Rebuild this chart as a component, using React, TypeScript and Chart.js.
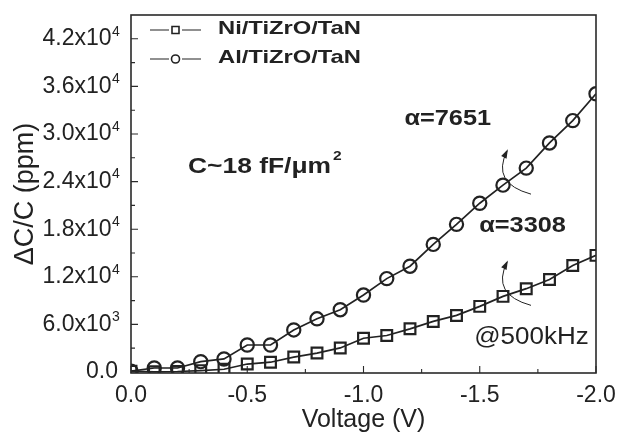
import React, { useEffect, useRef } from "react";
import { Chart, registerables } from "chart.js";

Chart.register(...registerables);

const voltage = [0, -0.1, -0.2, -0.3, -0.4, -0.5, -0.6, -0.7, -0.8, -0.9, -1.0, -1.1, -1.2, -1.3, -1.4, -1.5, -1.6, -1.7, -1.8, -1.9, -2.0];
const niValues = [100, 20, 60, 170, 340, 1000, 1230, 1880, 2380, 3030, 4250, 4600, 5440, 6370, 7130, 8270, 9530, 10500, 11650, 13420, 14700];
const alValues = [100, 500, 500, 1300, 1640, 3400, 3400, 5300, 6700, 7850, 9700, 11770, 13330, 16080, 18610, 21270, 23550, 25700, 28870, 31690, 35070];

const seriesNames = ["Ni/TiZrO/TaN", "Al/TiZrO/TaN"];

const yTickValues = [0, 6000, 12000, 18000, 24000, 30000, 36000, 42000];
const yTickLabels = ["0.0", "6.0x10", "1.2x10", "1.8x10", "2.4x10", "3.0x10", "3.6x10", "4.2x10"];
const yTickExponents = ["", "3", "4", "4", "4", "4", "4", "4"];
const yMinorTicks = [3000, 9000, 15000, 21000, 27000, 33000, 39000];
const xTickValues = [0, -0.5, -1.0, -1.5, -2.0];
const xTickLabels = ["0.0", "-0.5", "-1.0", "-1.5", "-2.0"];
const xMinorTicks = [-0.25, -0.75, -1.25, -1.75];

const xTitle = "Voltage (V)";
const yTitle = "\u0394C/C (ppm)";
const alphaAl = "\u03B1=7651";
const alphaNi = "\u03B1=3308";
const densityText = "C~18 fF/\u03BCm";
const densityExp = "2";
const freqText = "@500kHz";

const FONT = "'Liberation Sans', Arial, Helvetica, sans-serif";
const INK = "#222222";
const Y_TICK_PAD = 13;

function drawText(ctx: CanvasRenderingContext2D, text: string, x: number, y: number, font: string, sx: number): number {
  ctx.save();
  ctx.font = font;
  ctx.textBaseline = "middle";
  ctx.textAlign = "left";
  ctx.fillStyle = INK;
  ctx.translate(x, y);
  ctx.scale(sx, 1);
  ctx.fillText(text, 0, 0);
  const w = ctx.measureText(text).width * sx;
  ctx.restore();
  return w;
}

function drawArrow(ctx: CanvasRenderingContext2D, px: number, py: number) {
  const sx = px + 28, sy = py + 9;
  const cx = px - 12, cy = py - 2;
  const ex = px + 4, ey = py - 34;
  ctx.save();
  ctx.strokeStyle = INK;
  ctx.fillStyle = INK;
  ctx.lineWidth = 1;
  ctx.beginPath();
  ctx.moveTo(sx, sy);
  ctx.quadraticCurveTo(cx, cy, ex, ey);
  ctx.stroke();
  const ang = Math.atan2(ey - cy, ex - cx);
  const L = 7, W = 3;
  ctx.beginPath();
  ctx.moveTo(ex + Math.cos(ang) * 2, ey + Math.sin(ang) * 2);
  ctx.lineTo(ex - Math.cos(ang) * L + Math.sin(ang) * W, ey - Math.sin(ang) * L - Math.cos(ang) * W);
  ctx.lineTo(ex - Math.cos(ang) * L - Math.sin(ang) * W, ey - Math.sin(ang) * L + Math.cos(ang) * W);
  ctx.closePath();
  ctx.fill();
  ctx.restore();
}

const decorPlugin = {
  id: "decor",
  afterDraw(chart: any) {
    const { ctx, chartArea: a, scales } = chart;
    const xs = scales.x, ys = scales.y;
    ctx.save();
    ctx.strokeStyle = "#2a2a2a";
    ctx.lineWidth = 1.6;
    ctx.strokeRect(a.left, a.top, a.right - a.left, a.bottom - a.top);
    ctx.lineWidth = 1.1;
    ctx.beginPath();
    xTickValues.forEach((v) => {
      const p = xs.getPixelForValue(v);
      ctx.moveTo(p, a.bottom);
      ctx.lineTo(p, a.bottom - 7);
    });
    xMinorTicks.forEach((v) => {
      const p = xs.getPixelForValue(v);
      ctx.moveTo(p, a.bottom);
      ctx.lineTo(p, a.bottom - 4);
    });
    yTickValues.forEach((v) => {
      const p = ys.getPixelForValue(v);
      ctx.moveTo(a.left, p);
      ctx.lineTo(a.left + 7, p);
    });
    yMinorTicks.forEach((v) => {
      const p = ys.getPixelForValue(v);
      ctx.moveTo(a.left, p);
      ctx.lineTo(a.left + 4, p);
    });
    ctx.stroke();
    ctx.restore();

    // exponents of y tick labels
    yTickValues.forEach((v, i) => {
      if (!yTickExponents[i]) return;
      const p = ys.getPixelForValue(v);
      drawText(ctx, yTickExponents[i], a.left - Y_TICK_PAD - 6, p - 7, `14px ${FONT}`, 1);
    });

    const legendRows = [a.top + 14, a.top + 43];
    legendRows.forEach((ry, i) => {
      ctx.save();
      ctx.strokeStyle = INK;
      ctx.lineWidth = 1.2;
      ctx.beginPath();
      ctx.moveTo(a.left + 19, ry + 1);
      ctx.lineTo(a.left + 38, ry + 1);
      ctx.moveTo(a.left + 51, ry + 1);
      ctx.lineTo(a.left + 70, ry + 1);
      ctx.stroke();
      ctx.lineWidth = 1.6;
      ctx.beginPath();
      if (i === 0) ctx.rect(a.left + 41, ry - 2.5, 7, 7);
      else ctx.arc(a.left + 44.5, ry + 1, 4, 0, Math.PI * 2);
      ctx.stroke();
      ctx.restore();
      drawText(ctx, seriesNames[i], a.left + 87, ry, `bold 19px ${FONT}`, 1.25);
    });

    const dx = xs.getPixelForValue(-0.245), dy = ys.getPixelForValue(25900);
    const w = drawText(ctx, densityText, dx, dy, `bold 22px ${FONT}`, 1.2);
    drawText(ctx, densityExp, dx + w + 2, dy - 10, `bold 13px ${FONT}`, 1.2);
    drawText(ctx, alphaAl, xs.getPixelForValue(-1.176), ys.getPixelForValue(31900), `bold 22px ${FONT}`, 1.15);
    drawText(ctx, alphaNi, xs.getPixelForValue(-1.498), ys.getPixelForValue(18360), `bold 22px ${FONT}`, 1.15);
    drawText(ctx, freqText, xs.getPixelForValue(-1.476), ys.getPixelForValue(4300), `23px ${FONT}`, 1.13);

    const k = voltage.indexOf(-1.6);
    drawArrow(ctx, xs.getPixelForValue(voltage[k]), ys.getPixelForValue(alValues[k]));
    drawArrow(ctx, xs.getPixelForValue(voltage[k]), ys.getPixelForValue(niValues[k]));
  },
};

export default function App() {
  const ref = useRef<HTMLCanvasElement>(null);
  useEffect(() => {
    const canvas = ref.current;
    if (!canvas) return;
    const chart = new Chart(canvas, {
      type: "line",
      data: {
        labels: voltage,
        datasets: [
          {
            label: seriesNames[0],
            data: voltage.map((v, i) => ({ x: v, y: niValues[i] })),
            borderColor: INK,
            borderWidth: 1.7,
            pointStyle: "rect",
            pointRadius: 7.6,
            pointBorderWidth: 2.2,
            pointBorderColor: INK,
            pointBackgroundColor: "rgba(0,0,0,0)",
            tension: 0,
          },
          {
            label: seriesNames[1],
            data: voltage.map((v, i) => ({ x: v, y: alValues[i] })),
            borderColor: INK,
            borderWidth: 1.7,
            pointStyle: "circle",
            pointRadius: 6.6,
            pointBorderWidth: 2.2,
            pointBorderColor: INK,
            pointBackgroundColor: "rgba(0,0,0,0)",
            tension: 0,
          },
        ],
      },
      options: {
        responsive: false,
        animation: false,
        devicePixelRatio: 1,
        layout: { padding: { top: 15, right: 22, left: 0, bottom: 0 } },
        plugins: { legend: { display: false }, tooltip: { enabled: false } },
        scales: {
          x: {
            type: "linear",
            min: -2,
            max: 0,
            reverse: true,
            grid: { display: false, drawTicks: false },
            border: { display: false },
            afterBuildTicks: (s: any) => {
              s.ticks = xTickValues.map((v) => ({ value: v }));
            },
            afterFit: (s: any) => {
              s.height = 62;
              s.paddingLeft = 0;
              s.paddingRight = 0;
            },
            ticks: {
              autoSkip: false,
              maxRotation: 0,
              padding: 9,
              color: INK,
              font: { family: FONT, size: 23 },
              callback: (v: any) => xTickLabels[xTickValues.indexOf(Number(v))] ?? "",
            },
            title: {
              display: true,
              text: xTitle,
              color: INK,
              font: { family: FONT, size: 25 },
              padding: { top: 0, bottom: 0 },
            },
          },
          y: {
            type: "linear",
            min: -130,
            max: 45000,
            grid: { display: false, drawTicks: false },
            border: { display: false },
            afterBuildTicks: (s: any) => {
              s.ticks = yTickValues.map((v) => ({ value: v }));
            },
            afterFit: (s: any) => {
              s.width = 131;
              s.paddingTop = 0;
              s.paddingBottom = 0;
            },
            ticks: {
              autoSkip: false,
              padding: Y_TICK_PAD,
              color: INK,
              font: { family: FONT, size: 23 },
              callback: (v: any) => {
                const i = yTickValues.indexOf(Number(v));
                if (i < 0) return "";
                return yTickExponents[i] ? yTickLabels[i] + " " : yTickLabels[i];
              },
            },
            title: {
              display: true,
              text: yTitle,
              color: INK,
              font: { family: FONT, size: 27 },
              padding: { top: 9, bottom: 0 },
            },
          },
        },
      },
      plugins: [decorPlugin],
    });
    return () => chart.destroy();
  }, []);
  return (
    <div style={{ position: "absolute", left: 0, top: 0, width: 618, height: 435, background: "#ffffff" }}>
      <canvas ref={ref} width={618} height={435} style={{ display: "block" }} />
    </div>
  );
}
